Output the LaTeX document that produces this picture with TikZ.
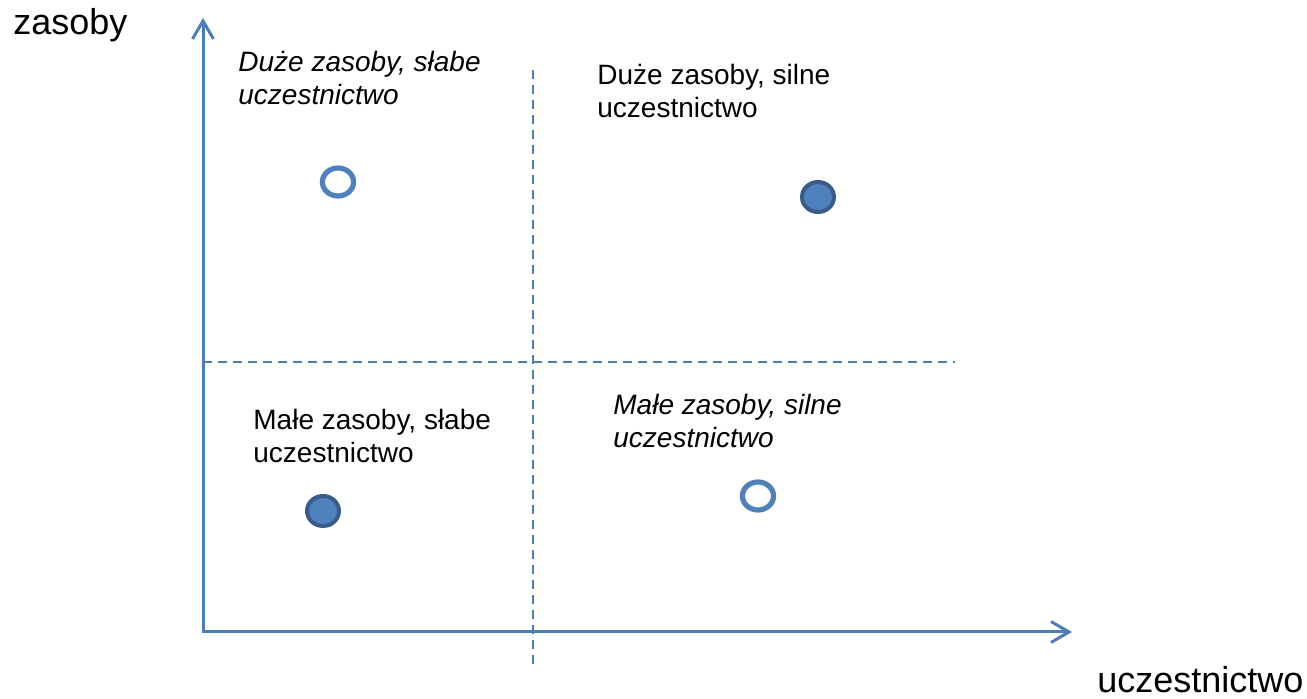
\documentclass[tikz,border=0pt]{standalone}
\usepackage{fontspec}
\setmainfont{Liberation Sans}
\usetikzlibrary{arrows.meta,shapes.geometric}
\definecolor{axisblue}{HTML}{4A7EBB}
\definecolor{circblue}{HTML}{4F81BD}
\definecolor{circdark}{HTML}{385D8A}
\tikzset{
  axisline/.style={draw=axisblue, line width=1.5pt, line join=miter,
    {Straight Barb[length=9pt,width=10.5pt,line width=1.5pt]}-{Straight Barb[length=9pt,width=10.5pt,line width=1.5pt]}},
  divider/.style={draw=axisblue, line width=0.9pt, dash pattern=on 4.5pt off 3pt},
  lbl/.style={inner sep=0pt, align=left, font=\fontsize{14}{16.5}\selectfont},
  axlbl/.style={inner sep=0pt, font=\fontsize{18}{21}\selectfont},
  opendot/.style={ellipse, draw=circblue, line width=2.6pt, fill=white, inner sep=0pt, minimum width=15.6pt, minimum height=14pt},
  fulldot/.style={ellipse, draw=circdark, line width=2pt, fill=circblue, inner sep=0pt, minimum width=16pt, minimum height=15pt}
}
\begin{document}
\begin{tikzpicture}[x=0.5pt,y=-0.5pt]
\useasboundingbox (0,0) rectangle (1307,699);
\fill[white] (0,0) rectangle (1307,699);
% axes
\coordinate (O) at (203,632);
\coordinate (ytip) at (203,18);
\coordinate (xtip) at (1072,632);
\draw[axisline] (ytip) -- (O) -- (xtip);
% dividers
\coordinate (vtop) at (533,70);
\coordinate (vbot) at (533,667);
\coordinate (hleft) at (203,362);
\coordinate (hright) at (955,362);
\draw[divider] (vtop) -- (vbot);
\draw[divider] (hleft) -- (hright);
% axis labels
\node[axlbl, anchor=base west] (ylab) at (13,35) {zasoby};
\node[axlbl, anchor=base west] (xlab) at (1097,693) {uczestnictwo};
% quadrant labels (anchor = baseline of the last line)
\node[lbl, anchor=base west] (q1) at (238,105) {\itshape Duże zasoby, słabe\\\itshape uczestnictwo};
\node[lbl, anchor=base west] (q2) at (597,118) {Duże zasoby, silne\\uczestnictwo};
\node[lbl, anchor=base west] (q3) at (253,463) {Małe zasoby, słabe\\uczestnictwo};
\node[lbl, anchor=base west] (q4) at (613,448) {\itshape Małe zasoby, silne\\\itshape uczestnictwo};
% dots
\node[opendot] (d1) at (338,182) {};
\node[fulldot] (d2) at (818,197) {};
\node[fulldot] (d3) at (323,511) {};
\node[opendot] (d4) at (758,496) {};
\end{tikzpicture}
\end{document}
